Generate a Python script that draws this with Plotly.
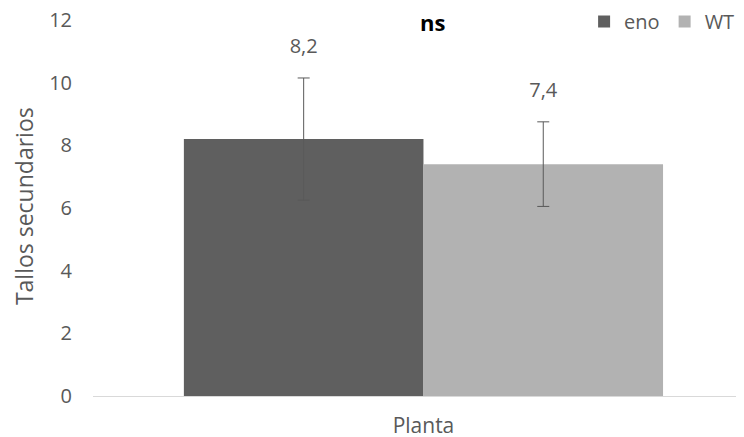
import plotly.graph_objects as go

categories = ["Planta"]
series_names = ["eno", "WT"]
values = [8.2, 7.4]
errors = [1.95, 1.35]
value_labels = ["8,2", "7,4"]
bar_colors = ["#5f5f5f", "#b2b2b2"]
y_ticks = [0, 2, 4, 6, 8, 10, 12]
y_title = "Tallos secundarios"

FONT = "Open Sans, Segoe UI, Arial, sans-serif"
TXT = "#595959"
GAP = 0.275

fig = go.Figure()
for name, v, e, c in zip(series_names, values, errors, bar_colors):
    fig.add_trace(go.Bar(
        name=name, x=categories, y=[v], marker=dict(color=c, line=dict(width=0)),
        error_y=dict(type="data", array=[e], visible=True, color=TXT, thickness=1, width=6),
        offsetgroup=name,
    ))
for name, v, e, lab in zip(series_names, values, errors, value_labels):
    fig.add_trace(go.Scatter(
        x=categories, y=[v + e + 0.95], mode="text", text=[lab],
        textfont=dict(family=FONT, size=20, color=TXT), showlegend=False,
        offsetgroup=name, hoverinfo="skip",
    ))

fig.add_annotation(text="<b>ns</b>", xref="paper", yref="paper", x=0.521, y=0.996,
                   showarrow=False, font=dict(family=FONT, size=22, color="#000000"),
                   xanchor="center", yanchor="middle")
fig.add_annotation(text=y_title, xref="paper", yref="paper", x=-0.106, y=0.505,
                   textangle=-90, showarrow=False,
                   font=dict(family=FONT, size=23, color=TXT),
                   xanchor="center", yanchor="middle")

fig.update_layout(
    width=736, height=429,
    margin=dict(l=85, r=0, t=12, b=41, autoexpand=False),
    paper_bgcolor="white", plot_bgcolor="white",
    barmode="group", bargap=GAP, bargroupgap=0,
    scattermode="group", scattergap=GAP,
    font=dict(family=FONT, size=20, color=TXT),
    legend=dict(orientation="h", x=0.994, xanchor="right", y=0.996, yanchor="middle",
                font=dict(family=FONT, size=20, color=TXT), bgcolor="rgba(0,0,0,0)",
                itemwidth=30, traceorder="normal", tracegroupgap=0),
    xaxis=dict(range=[-0.5, 0.485], showline=True, linecolor="#d9d9d9", linewidth=1,
               ticks="", showgrid=False, ticklabelstandoff=11,
               tickfont=dict(size=21, color=TXT)),
    yaxis=dict(range=[0, 12], tickvals=y_ticks, showgrid=False, zeroline=False,
               showline=False, ticks="", ticklabelstandoff=20, ticklabeloverflow="allow",
               tickfont=dict(size=20, color=TXT)),
)
fig.write_html("out.html")
